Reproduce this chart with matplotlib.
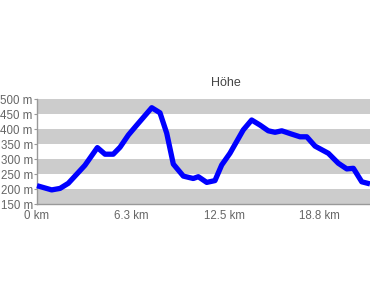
import matplotlib
matplotlib.use("Agg")
import matplotlib.pyplot as plt

plt.rcParams['font.family'] = ['Liberation Sans', 'DejaVu Sans']

km = [0, 0.98, 1.54, 2.09, 3.2, 4.03, 4.54, 5.09, 5.54, 6.10, 6.66, 7.66, 8.21, 8.66,
      9.10, 9.77, 10.43, 10.77, 11.33, 11.88, 12.33, 12.88, 13.77, 14.33, 14.89, 15.44,
      15.89, 16.34, 17.00, 17.56, 18.01, 18.56, 19.45, 20.11, 20.68, 21.12, 21.68, 22.23]
hoehe = [212, 198, 203, 220, 280, 339, 317, 317, 340, 381, 414, 472, 455, 387,
         284, 244, 236, 242, 223, 229, 281, 320, 398, 431, 414, 395,
         390, 395, 384, 375, 375, 344, 320, 287, 268, 270, 225, 218]

x_ticks = [0, 6.275, 12.55, 18.825]
x_labels = ["0 km", "6.3 km", "12.5 km", "18.8 km"]
y_ticks = [150, 200, 250, 300, 350, 400, 450, 500]
y_labels = [f"{v} m" for v in y_ticks]
title = "Höhe"

fig = plt.figure(figsize=(3.7, 2.97), dpi=100)
ax = fig.add_axes([37/370, (297-204.3)/297, 1-37/370, (204.3-99.3)/297])

for lo in [150, 250, 350, 450]:
    ax.axhspan(lo, lo + 50, color='#cccccc', lw=0, zorder=0)

ax.plot(km, hoehe, color='#0000ff', lw=3.8, solid_joinstyle='round',
        solid_capstyle='butt', clip_on=False, zorder=3)

ax.set_xlim(0, 22.23)
ax.set_ylim(150, 500)
ax.set_xticks(x_ticks)
ax.set_xticklabels(x_labels)
ax.set_yticks(y_ticks)
ax.set_yticklabels(y_labels)
ax.tick_params(axis='y', length=2.5, width=0.8, color='#999999', labelsize=8.3,
               labelcolor='#666666', pad=0.5)
ax.tick_params(axis='x', length=0, labelsize=8.3, labelcolor='#666666', pad=4)
for s in ['top', 'right']:
    ax.spines[s].set_visible(False)
for s in ['left', 'bottom']:
    ax.spines[s].set_color('#999999')
    ax.spines[s].set_linewidth(1)

fig.text(225.5/370, 1 - 83/297, title, ha='center', va='center', fontsize=9, color='#444444')

fig.savefig("out.png", dpi=100)
